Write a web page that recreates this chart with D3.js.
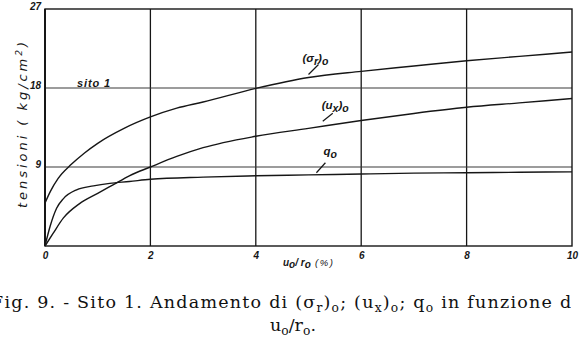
<!DOCTYPE html>
<html>
<head>
<meta charset="utf-8">
<script src="https://cdn.jsdelivr.net/npm/d3@7"></script>
<style>
  html, body { margin: 0; padding: 0; background: #fff; }
  svg { display: block; }
</style>
</head>
<body>
<svg id="chart" width="585" height="347"></svg>
<script>
// u0/r0 (%) on the horizontal axis
const xTicks = [0, 2, 4, 6, 8, 10];
const yTicks = [9, 18, 27];

// (sigma_r)_0 — radial stress at the cavity wall
const sigmaX = [0, 0.1, 0.25, 0.5, 0.75, 1, 1.5, 2, 2.5, 3, 4, 5, 6, 7, 8, 9, 10];
const sigmaY = [4.9, 6.2, 7.7, 9.3, 10.6, 11.7, 13.4, 14.7, 15.7, 16.4, 17.95, 19.2, 19.9, 20.5, 21.1, 21.6, 22.1];

// (u_x)_0
const uxX = [0, 0.15, 0.35, 0.65, 1, 1.3, 1.6, 2, 2.5, 3, 4, 5, 6, 7, 8, 9, 10];
const uxY = [0, 1.4, 3.2, 4.8, 6.0, 7.0, 8.0, 9.0, 10.2, 11.2, 12.5, 13.4, 14.3, 15.1, 15.8, 16.3, 16.8];

// q_0
const qX = [0, 0.1, 0.22, 0.35, 0.6, 0.92, 1.23, 1.6, 2, 3, 4, 5, 6, 7, 8, 9, 10];
const qY = [0, 2.3, 4.3, 5.4, 6.4, 6.85, 7.14, 7.35, 7.6, 7.85, 8.0, 8.1, 8.2, 8.3, 8.35, 8.4, 8.45];

const siteLabel = "sito 1";
const siteLevel = 18;

const svg = d3.select("#chart");
const x = d3.scaleLinear().domain([0, 10]).range([45, 572]);
const y = d3.scaleLinear().domain([0, 27]).range([246, 9]);

const ink = "#161616";

// grid: vertical lines at the even abscissae, horizontal at 9 and 18
svg.append("g").selectAll("line")
  .data(xTicks.slice(1, -1)).join("line")
  .attr("x1", d => x(d)).attr("x2", d => x(d))
  .attr("y1", y(27)).attr("y2", y(0))
  .attr("stroke", ink).attr("stroke-width", 1.3);

svg.append("g").selectAll("line")
  .data(yTicks.slice(0, -1)).join("line")
  .attr("x1", x(0)).attr("x2", x(10))
  .attr("y1", d => y(d)).attr("y2", d => y(d))
  .attr("stroke", "#3a3a3a").attr("stroke-width", 1.1);

// frame
svg.append("rect")
  .attr("x", x(0)).attr("y", y(27))
  .attr("width", x(10) - x(0)).attr("height", y(0) - y(27))
  .attr("fill", "none").attr("stroke", ink).attr("stroke-width", 1.4);
svg.append("line")
  .attr("x1", x(0)).attr("x2", x(0)).attr("y1", y(27)).attr("y2", y(0))
  .attr("stroke", ink).attr("stroke-width", 2);

// axes: tick labels only, the frame carries the lines
const tickFont = "'Liberation Sans', Arial, sans-serif";
const xAxis = svg.append("g")
  .attr("transform", `translate(0,${y(0)})`)
  .call(d3.axisBottom(x).tickValues(xTicks).tickSize(0).tickPadding(6).tickFormat(d3.format("d")));
xAxis.select(".domain").remove();
xAxis.selectAll("text")
  .attr("font-family", tickFont).attr("font-style", "italic").attr("font-weight", "bold")
  .attr("font-size", 10).attr("fill", ink);

const yAxis = svg.append("g")
  .attr("transform", `translate(${x(0)},0)`)
  .call(d3.axisLeft(y).tickValues(yTicks).tickSize(0).tickPadding(4).tickFormat(d3.format("d")));
yAxis.select(".domain").remove();
yAxis.selectAll("text")
  .attr("font-family", tickFont).attr("font-style", "italic").attr("font-weight", "bold")
  .attr("font-size", 10).attr("fill", ink).attr("dy", "0.05em");

// curves
const line = d3.line().x(d => x(d[0])).y(d => y(d[1])).curve(d3.curveMonotoneX);
const series = [
  { xs: sigmaX, ys: sigmaY },
  { xs: uxX, ys: uxY },
  { xs: qX, ys: qY }
];
svg.append("g").selectAll("path")
  .data(series).join("path")
  .attr("d", s => line(s.xs.map((v, i) => [v, s.ys[i]])))
  .attr("fill", "none").attr("stroke", ink).attr("stroke-width", 1.4);

// value of a series at a given abscissa (linear between the read points)
function at(xs, ys, v) {
  const i = Math.max(1, d3.bisectLeft(xs, v));
  const t = (v - xs[i - 1]) / (xs[i] - xs[i - 1]);
  return ys[i - 1] + t * (ys[i] - ys[i - 1]);
}

// curve labels with short leader strokes
const labelFont = "'Liberation Sans', Arial, sans-serif";
const labels = [
  { xs: sigmaX, ys: sigmaY, at: 5.0, gap: 3, lead: [10, -10], text: [["(σ", 0], ["r", 1], [")", 0], ["o", 1]], dx: -6, dy: -10 },
  { xs: uxX, ys: uxY, at: 5.27, gap: 5, lead: [10, -8], text: [["(u", 0], ["x", 1], [")", 0], ["o", 1]], dx: -1, dy: -12 },
  { xs: qX, ys: qY, at: 5.15, gap: 2, lead: [9, -10], text: [["q", 0], ["o", 1]], dx: 7, dy: -16 }
];
labels.forEach(l => {
  const px = x(l.at), py = y(at(l.xs, l.ys, l.at)) - l.gap;
  svg.append("line")
    .attr("x1", px).attr("y1", py)
    .attr("x2", px + l.lead[0]).attr("y2", py + l.lead[1])
    .attr("stroke", ink).attr("stroke-width", 1.2);
  const t = svg.append("text")
    .attr("x", px + l.dx).attr("y", py + l.lead[1] + l.dy + 8)
    .attr("font-family", labelFont).attr("font-style", "italic").attr("font-weight", "bold")
    .attr("font-size", 11.5).attr("fill", ink);
  let lowered = false;
  l.text.forEach(([s, sub]) => {
    const ts = t.append("tspan").text(s);
    if (sub && !lowered) { ts.attr("dy", 3).attr("font-size", 10.5); lowered = true; }
    else if (!sub && lowered) { ts.attr("dy", -3); lowered = false; }
    else if (sub) ts.attr("font-size", 10.5);
  });
});

// site marker on the 18 line
svg.append("text")
  .attr("x", 77).attr("y", y(siteLevel) - 1.5)
  .attr("font-family", labelFont).attr("font-style", "italic").attr("font-weight", "bold")
  .attr("font-size", 11).attr("letter-spacing", 0.9).attr("fill", ink)
  .text(siteLabel);

// vertical axis title
const yt = svg.append("text")
  .attr("transform", "translate(27,125) rotate(-90)")
  .attr("text-anchor", "middle")
  .attr("font-family", "'DejaVu Sans', sans-serif").attr("font-style", "italic")
  .attr("font-size", 13).attr("fill", ink)
  .attr("textLength", 166).attr("lengthAdjust", "spacing");
yt.append("tspan").text("tensioni ( kg/cm");
yt.append("tspan").attr("font-size", 9).attr("dy", -5).text("2");
yt.append("tspan").attr("dy", 5).text(")");

// horizontal axis title
const xt = svg.append("text")
  .attr("x", 283).attr("y", 266)
  .attr("font-family", labelFont).attr("font-style", "italic").attr("font-weight", "bold")
  .attr("font-size", 10).attr("fill", ink);
xt.append("tspan").text("u");
xt.append("tspan").attr("dy", 2).text("o");
xt.append("tspan").attr("dy", -2).text("/ r");
xt.append("tspan").attr("dy", 2).text("o");
xt.append("tspan").attr("dy", -2).attr("font-weight", "normal").attr("font-size", 9.5)
  .attr("letter-spacing", 1.6).text("  (%)");

// caption, trimmed by the page edge on the right
svg.append("clipPath").attr("id", "page-edge")
  .append("rect").attr("x", 0).attr("y", 280).attr("width", 571).attr("height", 67);
const cap = svg.append("g").attr("clip-path", "url(#page-edge)");
const capFont = "'DejaVu Serif', serif";

function fill(t, parts) {
  let low = false;
  parts.forEach(([s, sub]) => {
    const ts = t.append("tspan").text(s);
    if (sub) ts.attr("font-size", "70%");
    if (sub && !low) { ts.attr("dy", 4); low = true; }
    else if (!sub && low) { ts.attr("dy", -4); low = false; }
  });
}
const c1 = cap.append("text").attr("x", -9).attr("y", 308)
  .attr("font-family", capFont).attr("font-size", 17.5).attr("fill", "#111")
  .attr("textLength", 587).attr("lengthAdjust", "spacing");
fill(c1, [
  ["Fig. 9. - Sito 1. Andamento di (σ", 0], ["r", 1], [")", 0], ["o", 1], ["; (u", 0], ["x", 1],
  [")", 0], ["o", 1], ["; q", 0], ["o", 1], [" in funzione di", 0]
]);

const c2 = cap.append("text").attr("x", 293).attr("y", 331).attr("text-anchor", "middle")
  .attr("font-family", capFont).attr("font-size", 17.5).attr("fill", "#111");
fill(c2, [["u", 0], ["o", 1], ["/r", 0], ["o", 1], [".", 0]]);
</script>
</body>
</html>
